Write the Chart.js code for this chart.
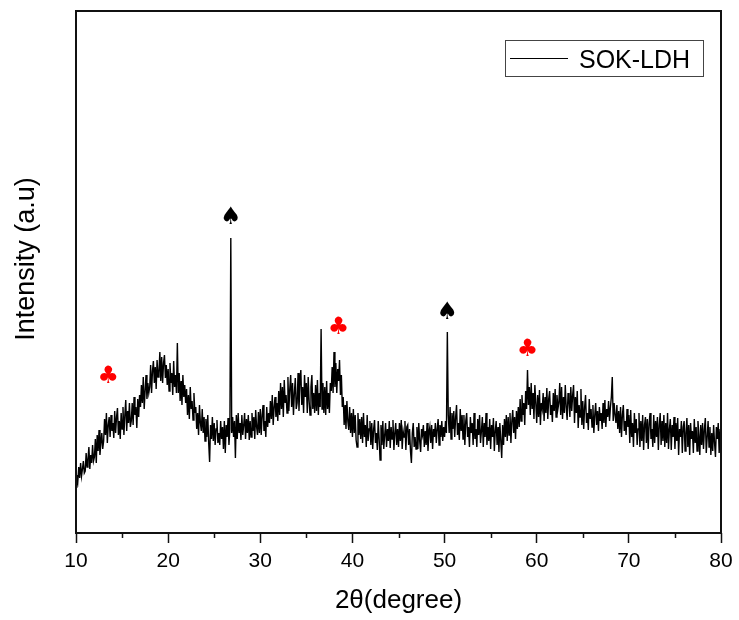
<!DOCTYPE html>
<html>
<head>
<meta charset="utf-8">
<title>SOK-LDH XRD</title>
<script src="https://cdn.jsdelivr.net/npm/chart.js@4.4.1/dist/chart.umd.min.js"></script>
<style>
  html, body { margin: 0; padding: 0; background: #fff; }
  #wrap { width: 739px; height: 620px; }
</style>
</head>
<body>
<div id="wrap"><canvas id="xrd" width="739" height="620"></canvas></div>
<script>
// step scan: 10 to 80 deg 2theta, 0.1 deg per step
const scanStart = 10;
const scanStep = 0.1;

// intensity (a.u.) per step, one block per 10 degrees
const counts10 = [
    46, 58, 52, 66, 55, 70, 57, 64, 72, 60,
    62, 80, 66, 74, 86, 64, 78, 70, 88, 72,
    76, 94, 70, 98, 82, 103, 78, 90, 100, 84,
    92, 114, 98, 120, 90, 108, 116, 96, 118, 102,
    110, 95, 122, 100, 116, 125, 98, 112, 94, 120,
    104, 126, 98, 118, 133, 102, 122, 110, 130, 106,
    112, 130, 108, 136, 118, 126, 105, 134, 116, 138,
    126, 148, 130, 156, 124, 142, 158, 134, 150, 140,
    146, 168, 140, 162, 172, 150, 166, 144, 173, 156,
    160, 181, 152, 176, 150, 170, 178, 155, 168, 148];
const counts20 = [
    164, 142, 170, 150, 160, 138, 172, 146, 158, 140,
    190, 140, 160, 132, 152, 128, 158, 136, 148, 130,
    144, 118, 138, 114, 146, 124, 132, 113, 140, 120,
    126, 104, 120, 98, 128, 110, 102, 124, 100, 116,
    92, 114, 96, 118, 90, 71, 108, 94, 116, 92,
    110, 88, 104, 113, 90, 100, 88, 112, 94, 106,
    84, 112, 80, 108, 96, 115, 88, 104, 295, 100,
    116, 96, 112, 75, 118, 94, 120, 100, 110, 93,
    118, 98, 108, 120, 94, 114, 100, 118, 93, 112,
    96, 120, 102, 116, 94, 123, 106, 98, 121, 100];
const counts30 = [
    124, 98, 118, 128, 102, 112, 96, 126, 106, 120,
    110, 132, 114, 138, 108, 126, 136, 116, 130, 112,
    142, 118, 150, 124, 146, 116, 153, 130, 138, 120,
    156, 122, 144, 158, 126, 150, 118, 140, 155, 124,
    130, 160, 122, 152, 163, 128, 146, 120, 158, 136,
    150, 120, 156, 132, 118, 146, 158, 124, 140, 120,
    148, 122, 153, 118, 140, 126, 204, 124, 150, 120,
    146, 118, 152, 124, 140, 120, 150, 142, 166, 140,
    181, 146, 170, 140, 164, 152, 173, 138, 158, 126,
    136, 108, 128, 104, 132, 112, 103, 126, 100, 120];
const counts40 = [
    96, 124, 100, 118, 93, 86, 120, 98, 114, 94,
    116, 90, 120, 96, 108, 86, 118, 92, 104, 112,
    88, 110, 84, 104, 113, 90, 100, 83, 112, 94,
    73, 108, 88, 112, 84, 98, 110, 86, 104, 92,
    112, 85, 106, 94, 113, 83, 100, 110, 88, 104,
    86, 110, 92, 113, 84, 102, 96, 112, 83, 106,
    108, 88, 104, 82, 70, 100, 110, 86, 96, 84,
    106, 84, 110, 92, 81, 104, 98, 108, 86, 102,
    88, 110, 82, 100, 106, 90, 108, 84, 104, 96,
    110, 90, 104, 114, 88, 108, 96, 112, 92, 106];
const counts50 = [
    96, 112, 100, 201, 118, 100, 126, 94, 120, 104,
    122, 96, 116, 128, 98, 110, 93, 124, 102, 118,
    94, 118, 88, 112, 120, 96, 106, 86, 116, 100,
    110, 88, 120, 94, 104, 86, 114, 98, 118, 90,
    102, 116, 86, 110, 96, 120, 88, 106, 92, 114,
    84, 108, 96, 115, 82, 102, 112, 88, 106, 81,
    110, 92, 75, 108, 88, 114, 96, 118, 92, 116,
    98, 120, 90, 112, 123, 100, 116, 94, 122, 104,
    126, 106, 134, 112, 138, 118, 130, 108, 142, 124,
    163, 128, 146, 118, 150, 124, 140, 114, 148, 130];
const counts60 = [
    110, 138, 116, 143, 108, 130, 124, 140, 112, 136,
    120, 145, 114, 134, 142, 118, 128, 111, 140, 122,
    144, 116, 138, 124, 130, 150, 118, 146, 114, 136,
    120, 148, 126, 113, 140, 132, 116, 146, 122, 138,
    148, 110, 136, 120, 142, 105, 128, 116, 144, 108,
    132, 104, 126, 138, 110, 120, 103, 134, 114, 124,
    106, 128, 100, 118, 130, 108, 122, 102, 126, 112,
    120, 104, 130, 110, 133, 106, 124, 116, 132, 112,
    126, 136, 156, 112, 130, 118, 110, 128, 104, 122,
    100, 126, 96, 118, 128, 102, 112, 98, 124, 106];
const counts70 = [
    118, 90, 123, 96, 110, 86, 120, 100, 114, 88,
    104, 120, 86, 112, 92, 118, 83, 108, 116, 90,
    114, 84, 110, 120, 94, 104, 86, 118, 90, 112,
    96, 116, 83, 108, 120, 88, 112, 92, 118, 86,
    110, 90, 120, 84, 104, 114, 83, 108, 96, 116,
    84, 110, 92, 115, 78, 104, 96, 112, 80, 106,
    112, 82, 100, 115, 86, 108, 78, 110, 94, 102,
    80, 114, 90, 106, 82, 112, 98, 78, 108, 88,
    110, 84, 104, 115, 80, 96, 112, 86, 106, 78,
    100, 82, 108, 90, 76, 106, 94, 110, 80, 104,
    96];

// phase marks above the peaks
const markAngles = [13.5, 26.8, 38.5, 50.3, 59.0];
const markLevels = [156, 315, 205, 220, 183];
const markGlyphs = ['\u2663', '\u2660', '\u2663', '\u2660', '\u2663'];
const markColors = ['#ff0000', '#000000', '#ff0000', '#000000', '#ff0000'];

const xTicks = [10, 20, 30, 40, 50, 60, 70, 80];
const xMinorTicks = [15, 25, 35, 45, 55, 65, 75];
const seriesName = 'SOK-LDH';
const yTitle = 'Intensity (a.u)';

const allCounts = [].concat(counts10, counts20, counts30, counts40, counts50, counts60, counts70);
const points = allCounts.map((c, i) => ({ x: +(scanStart + i * scanStep).toFixed(1), y: c }));

const FONT = "'Liberation Sans', Arial, sans-serif";

// frame, minor ticks, y title, symbols and legend box
const decorations = {
    id: 'decorations',
    afterDatasetsDraw(chart) {
        const { ctx, chartArea: a, scales } = chart;
        ctx.save();

        ctx.strokeStyle = '#111';
        ctx.lineWidth = 2;
        ctx.strokeRect(a.left, a.top, a.right - a.left, a.bottom - a.top);

        ctx.lineWidth = 1.5;
        xMinorTicks.forEach(v => {
            const px = Math.round(scales.x.getPixelForValue(v)) + 0.5;
            ctx.beginPath();
            ctx.moveTo(px, a.bottom);
            ctx.lineTo(px, a.bottom + 5);
            ctx.stroke();
        });

        // vertical axis title, sits a little above the centre
        ctx.save();
        ctx.translate(27, (a.top + a.bottom) / 2 - 13);
        ctx.rotate(-Math.PI / 2);
        ctx.fillStyle = '#000';
        ctx.font = '27px ' + FONT;
        ctx.textAlign = 'center';
        ctx.textBaseline = 'middle';
        ctx.fillText(yTitle, 0, 0);
        ctx.restore();

        ctx.font = '24px "DejaVu Sans"';
        ctx.textAlign = 'center';
        ctx.textBaseline = 'middle';
        markAngles.forEach((ang, i) => {
            ctx.fillStyle = markColors[i];
            ctx.fillText(markGlyphs[i], scales.x.getPixelForValue(ang), scales.y.getPixelForValue(markLevels[i]));
        });

        // legend
        const bx = a.right - 216, by = a.top + 29, bw = 198, bh = 36;
        ctx.strokeStyle = '#444';
        ctx.lineWidth = 1;
        ctx.strokeRect(bx + 0.5, by + 0.5, bw, bh);
        ctx.strokeStyle = '#000';
        ctx.beginPath();
        ctx.moveTo(bx + 5, by + 18.5);
        ctx.lineTo(bx + 63, by + 18.5);
        ctx.stroke();
        ctx.fillStyle = '#000';
        ctx.font = '25px ' + FONT;
        ctx.textAlign = 'left';
        ctx.textBaseline = 'alphabetic';
        ctx.fillText(seriesName, bx + 74, by + 28);

        ctx.restore();
    }
};

new Chart(document.getElementById('xrd'), {
    type: 'line',
    data: {
        datasets: [{
            label: seriesName,
            data: points,
            borderColor: '#000',
            borderWidth: 1.4,
            pointRadius: 0,
            tension: 0,
            fill: false
        }]
    },
    options: {
        responsive: false,
        animation: false,
        layout: { padding: { left: 0, top: 11, right: 18, bottom: 0 } },
        plugins: {
            legend: { display: false },
            tooltip: { enabled: false }
        },
        scales: {
            x: {
                type: 'linear',
                min: 10,
                max: 80,
                afterBuildTicks(scale) { scale.ticks = xTicks.map(v => ({ value: v })); },
                afterFit(scale) { scale.height = 87; },
                border: { display: false },
                grid: { drawOnChartArea: false, drawTicks: true, tickLength: 10, tickWidth: 1.5, tickColor: '#111' },
                ticks: { color: '#000', padding: 6, font: { family: FONT, size: 21 }, maxRotation: 0 },
                title: {
                    display: true,
                    text: '2\u03b8(degree)',
                    color: '#000',
                    font: { family: FONT, size: 26 },
                    padding: { top: 0, bottom: 4 }
                }
            },
            y: {
                min: 0,
                max: 522,
                afterFit(scale) { scale.width = 76; },
                border: { display: false },
                grid: { display: false },
                ticks: { display: false },
                title: { display: false }
            }
        }
    },
    plugins: [decorations]
});
</script>
</body>
</html>
